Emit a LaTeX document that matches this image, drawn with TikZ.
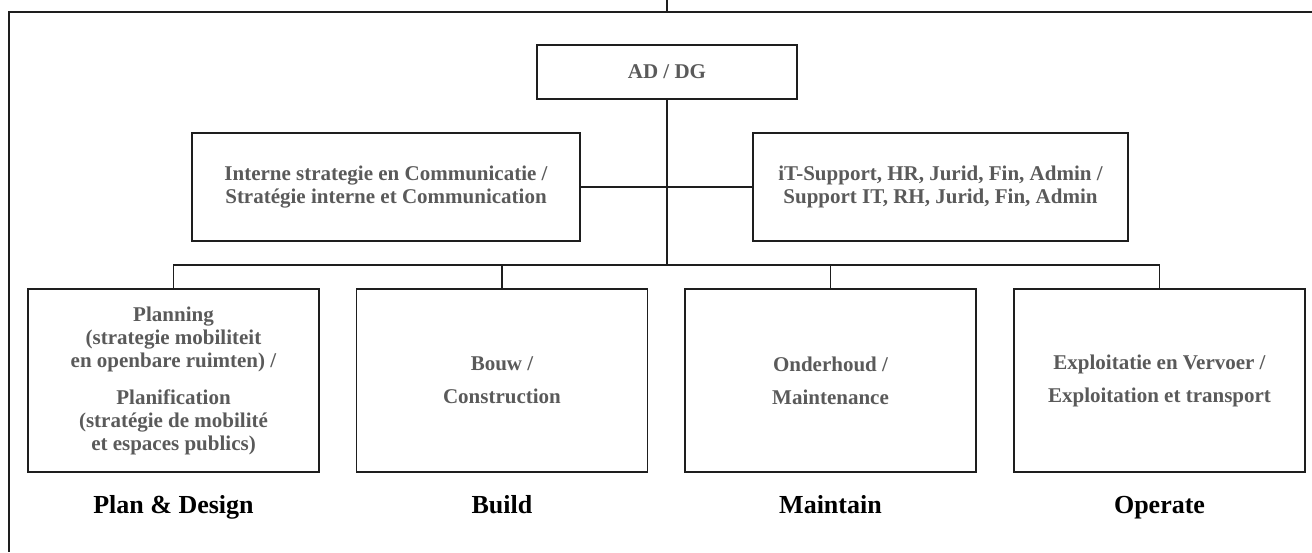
\documentclass[tikz,border=0pt]{standalone}
\usepackage{fontspec}
\setmainfont{Liberation Serif}
\usetikzlibrary{positioning}

\definecolor{boxtext}{HTML}{5A5A5A}
\definecolor{lines}{HTML}{1E1E1E}

\tikzstyle{unit} = [draw=lines, line width=1.2pt, inner sep=0, align=center, text=boxtext, font={\fontsize{21}{23}\selectfont\bfseries}]
\tikzstyle{head} = [unit, minimum width=260, minimum height=54]
\tikzstyle{staff} = [unit, minimum height=108]
\tikzstyle{line} = [unit, minimum width=291, minimum height=183]
\tikzstyle{pillar} = [text=black, anchor=base, font={\fontsize{26}{28}\selectfont\bfseries}]

\begin{document}
\begin{tikzpicture}[x=1pt, y=-1pt]
\useasboundingbox (0,0) rectangle (1312,552);

\coordinate (top) at (667,0);
\coordinate (fl) at (9,12);
\coordinate (fr) at (1312,12);
\coordinate (fb) at (9,552);
\coordinate (bus) at (667,265);

\node [head] (ceo) at (667,72) {AD / DG};
\node [staff, minimum width=388] (comm) at (386,187) {Interne strategie en Communicatie /\\Stratégie interne et Communication};
\node [staff, minimum width=375] (supp) at (940.5,187) {iT-Support, HR, Jurid, Fin, Admin /\\Support IT, RH, Jurid, Fin, Admin};
\node [line] (plan) at (173.5,380.5) {Planning\\(strategie mobiliteit\\en openbare ruimten) /\\[14pt]Planification\\(stratégie de mobilité\\et espaces publics)};
\node [line] (build) at (502,380.5) {Bouw /\\[10pt]Construction};
\node [line] (maint) at (830.5,380.5) {Onderhoud /\\[10pt]Maintenance};
\node [line] (oper) at (1159.5,380.5) {Exploitatie en Vervoer /\\[10pt]Exploitation et transport};

\node [pillar] (lplan) at (173.5,513) {Plan \& Design};
\node [pillar] (lbuild) at (502,513) {Build};
\node [pillar] (lmaint) at (830.5,513) {Maintain};
\node [pillar] (loper) at (1159.5,513) {Operate};

\draw [lines, line width=1.2pt] (fr) -- (fl) -- (fb);
\draw [lines, line width=1.2pt] (top) -- (top |- fl);
\draw [lines, line width=1.2pt] (ceo) -- (bus);
\draw [lines, line width=1.2pt] (comm) -- (supp);
\draw [lines, line width=1.2pt] (plan) -- (plan.north |- bus) -- (oper.north |- bus) -- (oper);
\draw [lines, line width=1.2pt] (build) -- (build.north |- bus);
\draw [lines, line width=1.2pt] (maint) -- (maint.north |- bus);
\end{tikzpicture}
\end{document}
